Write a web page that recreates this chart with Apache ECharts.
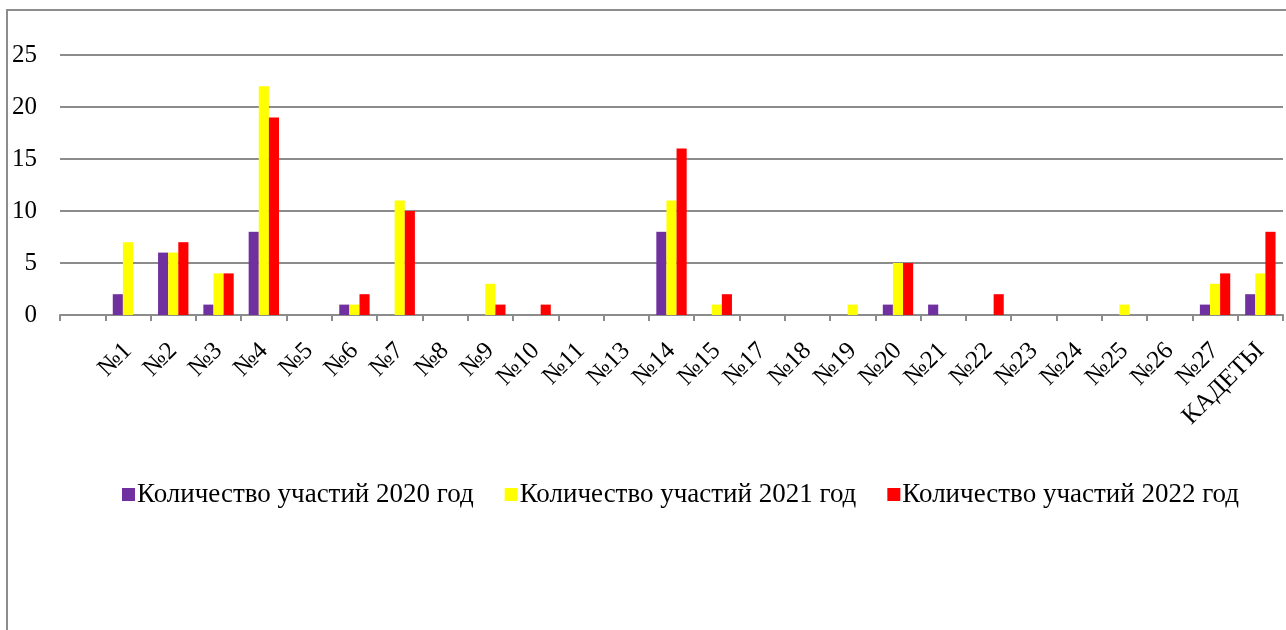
<!DOCTYPE html>
<html>
<head>
<meta charset="utf-8">
<script src="https://cdn.jsdelivr.net/npm/echarts@6/dist/echarts.min.js"></script>
<style>
  html, body { margin: 0; padding: 0; background: #fff; }
  #chart { width: 1286px; height: 630px; }
</style>
</head>
<body>
<div id="chart"></div>
<script>
// categories (first slot is empty in the original chart)
var categories = ['', '№1', '№2', '№3', '№4', '№5', '№6', '№7', '№8', '№9', '№10', '№11', '№13', '№14',
    '№15', '№17', '№18', '№19', '№20', '№21', '№22', '№23', '№24', '№25', '№26', '№27', 'КАДЕТЫ'];

var seriesNames = ['Количество участий 2020 год', 'Количество участий 2021 год', 'Количество участий 2022 год'];

var data2020 = [0, 2, 6, 1, 8, 0, 1, 0, 0, 0, 0, 0, 0, 8, 0, 0, 0, 0, 1, 1, 0, 0, 0, 0, 0, 1, 2];
var data2021 = [0, 7, 6, 4, 22, 0, 1, 11, 0, 3, 0, 0, 0, 11, 1, 0, 0, 1, 5, 0, 0, 0, 0, 1, 0, 3, 4];
var data2022 = [0, 0, 7, 4, 19, 0, 2, 10, 0, 1, 1, 0, 0, 16, 2, 0, 0, 0, 5, 0, 2, 0, 0, 0, 0, 4, 8];

var colors = ['#7030A0', '#FFFF00', '#FF0000'];
var font = '"Liberation Serif", "Times New Roman", serif';

var myChart = echarts.init(document.getElementById('chart'));

var option = {
    animation: false,
    textStyle: { fontFamily: font },
    // outer chart frame
    graphic: [{
        type: 'rect',
        shape: { x: 7, y: 10, width: 1300, height: 700 },
        style: { fill: 'none', stroke: '#8c8c8c', lineWidth: 2 },
        silent: true
    }],
    grid: { left: 60, right: 3, top: 55, bottom: 315, containLabel: false },
    legend: {
        data: seriesNames,
        top: 476,
        left: 117,
        itemWidth: 13,
        itemHeight: 13,
        itemGap: 31,
        icon: 'rect',
        textStyle: { fontFamily: font, fontSize: 27, color: '#000', padding: [0, 0, 0, -3] }
    },
    xAxis: {
        type: 'category',
        data: categories,
        axisLine: { lineStyle: { color: '#8c8c8c', width: 2 } },
        axisTick: { show: true, length: 6, lineStyle: { color: '#8c8c8c', width: 2 } },
        axisLabel: { rotate: 45, interval: 0, fontSize: 25, color: '#000', fontFamily: font, margin: 32 }
    },
    yAxis: {
        type: 'value',
        min: 0,
        max: 25,
        interval: 5,
        axisLine: { show: false },
        axisTick: { show: false },
        splitLine: { lineStyle: { color: '#8c8c8c', width: 2 } },
        axisLabel: { fontSize: 25, color: '#000', fontFamily: font, margin: 23 }
    },
    series: [
        { name: seriesNames[0], type: 'bar', data: data2020, itemStyle: { color: colors[0] }, barGap: '0%', barCategoryGap: '33%' },
        { name: seriesNames[1], type: 'bar', data: data2021, itemStyle: { color: colors[1] }, barGap: '0%', barCategoryGap: '33%' },
        { name: seriesNames[2], type: 'bar', data: data2022, itemStyle: { color: colors[2] }, barGap: '0%', barCategoryGap: '33%' }
    ]
};

myChart.setOption(option);
</script>
</body>
</html>
